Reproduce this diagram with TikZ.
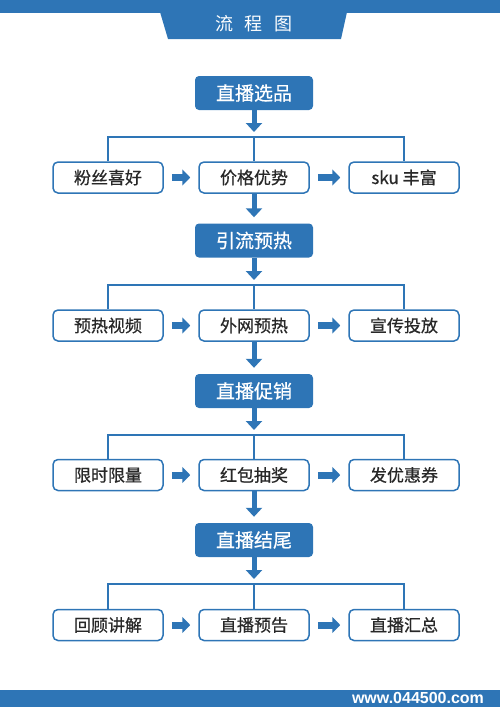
\documentclass[tikz,border=0pt]{standalone}
\usepackage{fontspec}
\setmainfont{Noto Sans CJK SC}[FakeBold=0.6]
\newfontfamily\titlefont{Noto Sans CJK SC}
\newfontfamily\markfont{Liberation Sans}
\usetikzlibrary{arrows.meta}
\definecolor{flowblue}{RGB}{46,117,182}
\definecolor{flowtext}{RGB}{40,40,40}

\begin{document}
\begin{tikzpicture}[x=1pt,y=-1pt,
  mainbox/.style={fill=flowblue, rounded corners=4pt, minimum width=118pt, minimum height=34pt, inner sep=0pt, text=white, font=\fontsize{19}{19}\selectfont},
  subbox/.style={draw=flowblue, line width=1.5pt, fill=white, rounded corners=5pt, minimum width=110pt, minimum height=31pt, inner sep=0pt, text=flowtext, font=\fontsize{17}{17}\selectfont},
  link/.style={draw=flowblue, line width=1.5pt},
  downarrow/.style={draw=flowblue, line width=5pt, -{Triangle[width=16pt,length=9pt]}},
  sidearrow/.style={draw=flowblue, line width=7pt, -{Triangle[width=16pt,length=8pt]}, shorten <=8pt, shorten >=8pt}
]
\useasboundingbox (0,0) rectangle (500,707);

% header and footer
\fill [flowblue] (0,0) rectangle (500,13);
\fill [flowblue] (160,12) -- (347,12) -- (341,39) -- (168,39) -- cycle;
\node (title) [text=white, font=\titlefont\fontsize{18}{18}\selectfont] at (254,24) {流\hspace{12pt}程\hspace{12pt}图};
\fill [flowblue] (0,690) rectangle (500,707);
\node (mark) [text=white, font=\markfont\bfseries\fontsize{16}{16}\selectfont] at (418,698) {www.044500.com};

% stage 1
\node (m1) [mainbox] at (254,93) {直播选品};
\coordinate (j1) at (254,137);
\node (a1) [subbox] at (108,177.5) {粉丝喜好};
\node (b1) [subbox] at (254,177.5) {价格优势};
\node (c1) [subbox] at (404,177.5) {sku 丰富};
\draw [downarrow, shorten >=5pt] (m1) -- (j1);
\draw [link] (a1.north) |- (j1) -| (c1.north);
\draw [link] (j1) -- (b1.north);
\draw [sidearrow] (a1) -- (b1);
\draw [sidearrow] (b1) -- (c1);

% stage 2
\node (m2) [mainbox] at (254,240.5) {引流预热};
\coordinate (j2) at (254,285);
\node (a2) [subbox] at (108,325.5) {预热视频};
\node (b2) [subbox] at (254,325.5) {外网预热};
\node (c2) [subbox] at (404,325.5) {宣传投放};
\draw [downarrow, shorten >=6pt] (b1) -- (m2);
\draw [downarrow, shorten >=5pt] (m2) -- (j2);
\draw [link] (a2.north) |- (j2) -| (c2.north);
\draw [link] (j2) -- (b2.north);
\draw [sidearrow] (a2) -- (b2);
\draw [sidearrow] (b2) -- (c2);

% stage 3
\node (m3) [mainbox] at (254,391) {直播促销};
\coordinate (j3) at (254,435);
\node (a3) [subbox] at (108,475) {限时限量};
\node (b3) [subbox] at (254,475) {红包抽奖};
\node (c3) [subbox] at (404,475) {发优惠券};
\draw [downarrow, shorten >=6pt] (b2) -- (m3);
\draw [downarrow, shorten >=5pt] (m3) -- (j3);
\draw [link] (a3.north) |- (j3) -| (c3.north);
\draw [link] (j3) -- (b3.north);
\draw [sidearrow] (a3) -- (b3);
\draw [sidearrow] (b3) -- (c3);

% stage 4
\node (m4) [mainbox] at (254,540) {直播结尾};
\coordinate (j4) at (254,584);
\node (a4) [subbox] at (108,625) {回顾讲解};
\node (b4) [subbox] at (254,625) {直播预告};
\node (c4) [subbox] at (404,625) {直播汇总};
\draw [downarrow, shorten >=6pt] (b3) -- (m4);
\draw [downarrow, shorten >=5pt] (m4) -- (j4);
\draw [link] (a4.north) |- (j4) -| (c4.north);
\draw [link] (j4) -- (b4.north);
\draw [sidearrow] (a4) -- (b4);
\draw [sidearrow] (b4) -- (c4);

\end{tikzpicture}
\end{document}
